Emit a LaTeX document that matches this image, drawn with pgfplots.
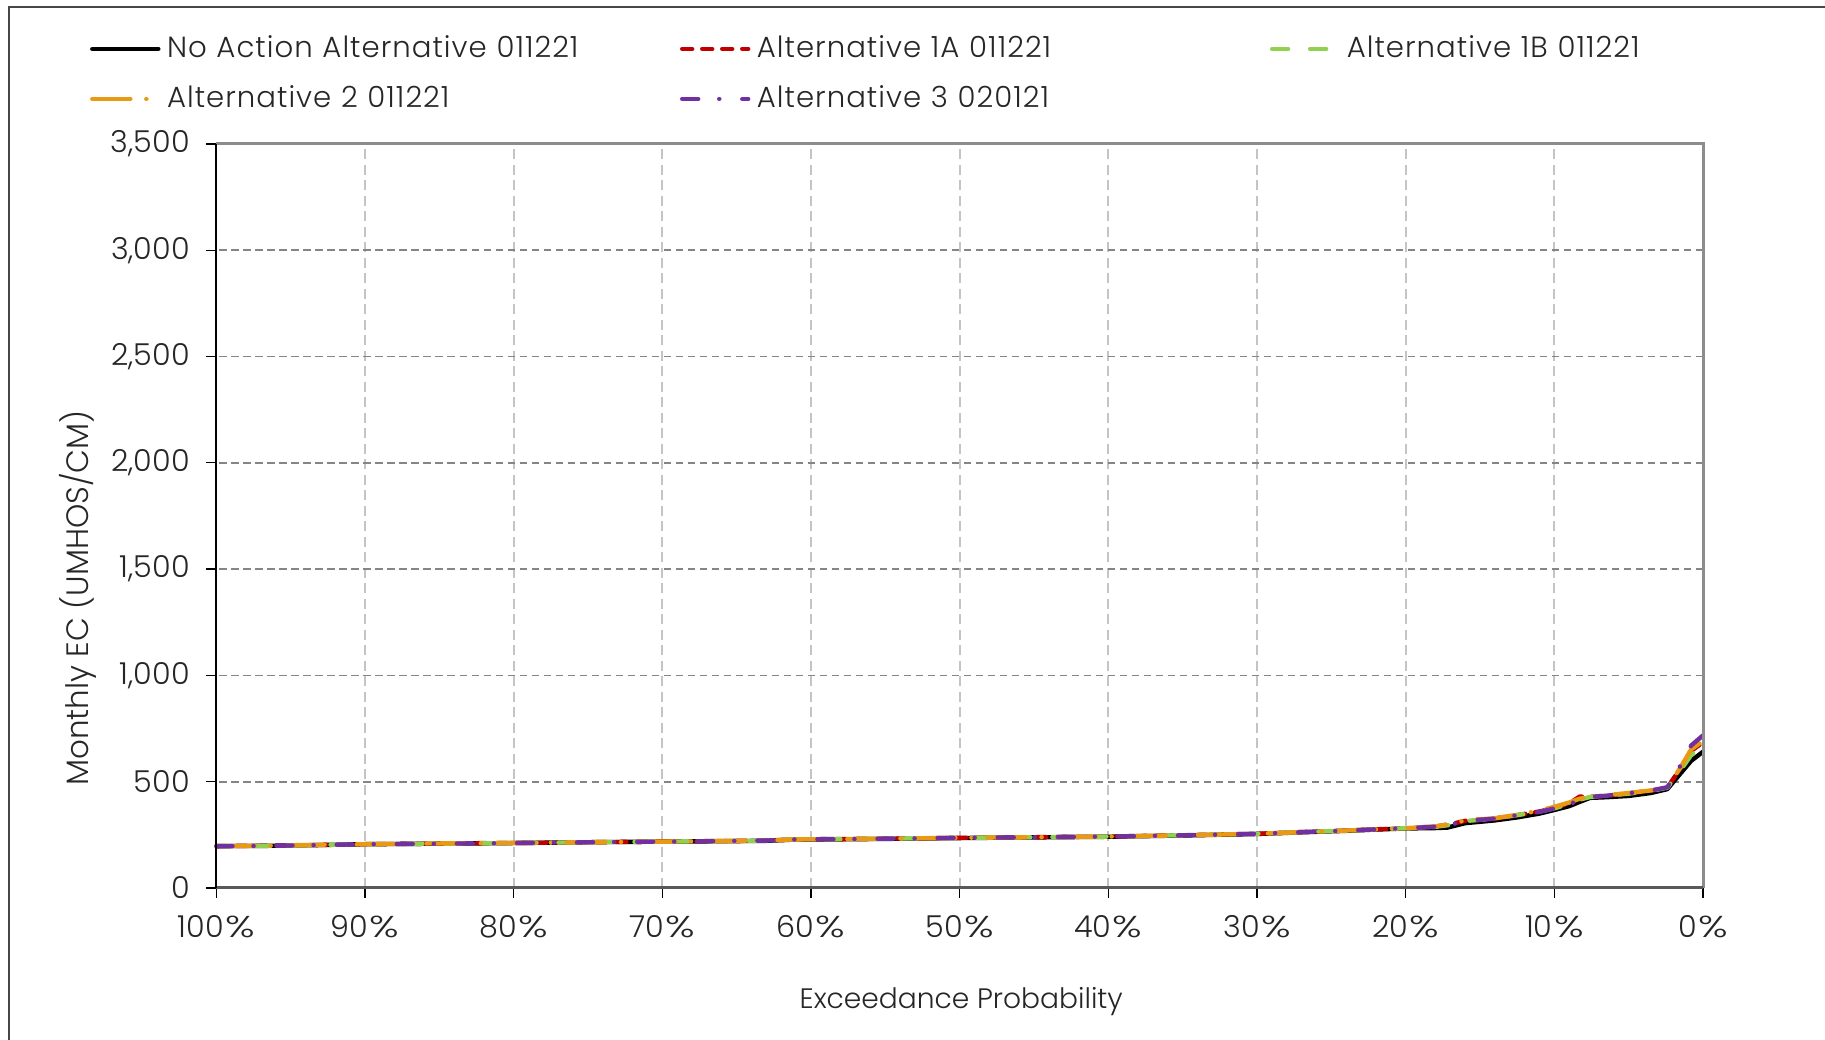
\documentclass[border=0pt]{standalone}
\usepackage{fontspec}
\setmainfont{Poppins}[UprightFont=* Light, Numbers=Monospaced]
\usepackage{graphicx}
\usepackage{pgfplots}
\pgfplotsset{compat=1.18}

\definecolor{altRed}{HTML}{C00000}
\definecolor{altGreen}{HTML}{92D050}
\definecolor{altOrange}{HTML}{E89A14}
\definecolor{altPurple}{HTML}{7030A0}
\definecolor{txt}{HTML}{262626}
\definecolor{hgrid}{HTML}{858585}
\definecolor{vgrid}{HTML}{C4C4C4}
\definecolor{spine}{HTML}{8C8C8C}

\newcommand\tickfont{\fontsize{8.6}{10}\selectfont}
\newcommand\legendfont{\fontsize{8.3}{10}\selectfont\addfontfeatures{LetterSpace=3.5}}
\newcommand\pct{\kern0.15mm\scalebox{1.35}[1]{\%}}

% Monthly EC exceedance curves (percent exceedance, umhos/cm)
\pgfplotstableread{
p     v
100   197
97    198
94    201
90    206
86    208
82    210
78    213
74    216
70    218
66    220
63    222
61    228
58    229
55    231
50    235
45    238
40    241
35    247
30    254
27    262
24    269
22    275
20    280
18    282
17.2  284
16    305
14    318
12.5  332
11    350
10    367
9     385
8.3   405
7.6   424
6.5   427
5     433
3.5   447
2.4   465
1.5   540
0.8   598
0     641
}\noaction

\pgfplotstableread{
p     v
100   197
97    199
94    201
90    206
86    208
82    211
78    213
74    216
70    218
66    221
63    223
61    229
58    230
55    232
50    236
45    239
40    242
35    248
30    255
27    263
24    270
22    276
20    281
18    289
17    300
16    316
14    327
12.5  343
11    360
10    376
9     398
8.3   430
7.6   429
6.5   434
5     445
3.5   458
2.4   472
1.5   565
0.8   645
0     685
}\altOneA

\pgfplotstableread{
p     v
100   197
97    198
94    201
90    206
86    208
82    210
78    213
74    216
70    218
66    221
63    223
61    229
58    230
55    232
50    236
45    239
40    242
35    248
30    255
27    263
24    270
22    276
20    281
18    288
17    297
16    315
14    327
12.5  343
11    359
10    375
9     395
8.3   416
7.6   428
6.5   434
5     444
3.5   457
2.4   472
1.5   555
0.8   625
0     675
}\altOneB

\pgfplotstableread{
p     v
100   197
97    199
94    202
90    206
86    209
82    211
78    213
74    216
70    218
66    221
63    223
61    229
58    230
55    232
50    236
45    239
40    242
35    248
30    255
27    263
24    270
22    276
20    281
18    290
17    301
16    318
14    328
12.5  344
11    364
10    382
9     402
8.3   420
7.6   429
6.5   436
5     447
3.5   459
2.4   473
1.5   568
0.8   652
0     692
}\altTwo

\pgfplotstableread{
p     v
100   196
97    198
94    201
90    206
86    208
82    210
78    213
74    216
70    218
66    221
63    223
61    229
58    230
55    232
50    236
45    239
40    242
35    248
30    255
27    263
24    270
22    276
20    281
18    288
17    297
16    316
14    326
12.5  342
11    358
10    374
9     394
8.3   414
7.6   428
6.5   434
5     446
3.5   458
2.4   474
1.5   578
0.8   670
0     718
}\altThree

\begin{document}
\begin{tikzpicture}[x=1mm,y=1mm]
\useasboundingbox (0,0) rectangle (182.5,104);
% outer chart frame
\draw[line width=0.2mm, black!72] (0.9,-1) -- (0.9,103.3) -- (183,103.3);
\begin{axis}[
  at={(21.65mm,15.2mm)}, anchor=south west,
  scale only axis, width=148.65mm, height=74.4mm,
  xmin=0, xmax=100, x dir=reverse,
  ymin=0, ymax=3500,
  xtick={0,10,...,100},
  xticklabels={0\pct,10\pct,20\pct,30\pct,40\pct,50\pct,60\pct,70\pct,80\pct,90\pct,100\pct},
  ytick={0,500,...,3500},
  /pgf/number format/.cd, 1000 sep={,}, assume math mode=true,
  /pgfplots/.cd,
  scaled y ticks=false,
  tick align=outside, tick pos=left,
  major tick length=1mm,
  major tick style={black, line width=0.13mm},
  axis line style={draw=none},
  grid=major,
  x grid style={vgrid, line width=0.2mm, dash pattern=on 1mm off 0.55mm},
  y grid style={hgrid, line width=0.18mm, dash pattern=on 0.75mm off 0.45mm},
  tick label style={font=\tickfont, text=txt, inner sep=0pt},
  yticklabel style={anchor=east, xshift=-1.6mm},
  xticklabel style={anchor=base, yshift=-4.0mm},
  xlabel={Exceedance Probability},
  ylabel={Monthly EC (UMHOS/CM)},
  every axis x label/.style={at={(axis description cs:0.501,-0.1527)}, anchor=center,
    font=\fontsize{8}{10}\selectfont, text=txt},
  every axis y label/.style={at={(axis description cs:-0.0932,0.39)}, anchor=center, rotate=90,
    font=\fontsize{8.8}{10}\selectfont, text=txt},
  legend columns=3,
  legend cell align=left,
  legend image code/.code={\draw[#1] (0mm,0mm) -- (6.6mm,0mm);},
  legend style={
    at={(axis description cs:-0.0850,1.1614)}, anchor=north west,
    draw=none, fill=none, inner sep=0pt, outer sep=0pt,
    row sep=0pt, column sep=0pt,
    font=\legendfont, text=txt,
    nodes={inner sep=0pt, text width=51.3mm, align=left, minimum height=5mm, anchor=west},
    /tikz/every odd column/.append style={column sep=0.65mm},
  },
  every axis plot/.append style={line width=0.44mm, line cap=round, line join=round},
  clip=false,
]
\addplot[black] table[x=p, y=v] {\noaction};
\addlegendentry{No Action Alternative 011221}
\addplot[altRed, dash pattern=on 1.0mm off 1.0mm] table[x=p, y=v] {\altOneA};
\addlegendentry{Alternative 1A 011221}
\addplot[altGreen, dash pattern=on 1.6mm off 2.2mm] table[x=p, y=v] {\altOneB};
\addlegendentry{Alternative 1B 011221}
\addplot[altOrange, dash pattern=on 3.8mm off 1.6mm on 0.01mm off 1.6mm] table[x=p, y=v] {\altTwo};
\addlegendentry{Alternative 2 011221}
\addplot[altPurple, dash pattern=on 1.6mm off 2.1mm on 0.01mm off 2.3mm] table[x=p, y=v] {\altThree};
\addlegendentry{Alternative 3 020121}
% plot-area spines
\draw[spine, line width=0.3mm] (rel axis cs:0,1) -- (rel axis cs:1,1) -- (rel axis cs:1,0);
\draw[black!65, line width=0.3mm] (rel axis cs:0,0) -- (rel axis cs:1,0);
\draw[black, line width=0.2mm] (rel axis cs:0,0) -- (rel axis cs:0,1);
\end{axis}
\end{tikzpicture}
\end{document}
